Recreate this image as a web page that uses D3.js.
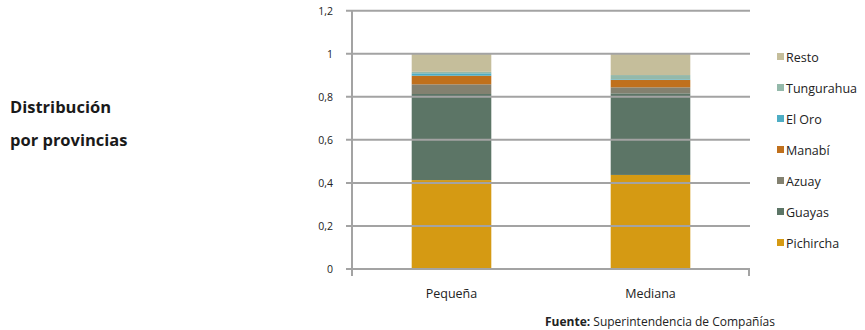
<!DOCTYPE html>
<html>
<head>
<meta charset="utf-8">
<script src="https://cdn.jsdelivr.net/npm/d3@7"></script>
<style>
  body { margin: 0; background: #fff; }
  svg { display: block; font-family: "Open Sans", sans-serif; }
</style>
</head>
<body>
<div id="grafico"></div>
<script>
var categorias = ["Pequeña", "Mediana"];
var provincias = ["Pichircha", "Guayas", "Azuay", "Manabí", "El Oro", "Tungurahua", "Resto"];
var colores = ["#D59A13", "#5C7566", "#838170", "#C0701C", "#4EADC4", "#94B9AA", "#C5BE9B"];
var pequena = [0.413, 0.40, 0.045, 0.04, 0.011, 0.007, 0.084];
var mediana = [0.437, 0.379, 0.028, 0.034, 0.003, 0.02, 0.099];
var ticksY = [0, 0.2, 0.4, 0.6, 0.8, 1, 1.2];

var width = 865, height = 330;
var izq = 352, der = 750, arriba = 10.7, abajo = 269;

var svg = d3.select("#grafico").append("svg")
    .attr("width", width)
    .attr("height", height);

// titulo
svg.append("text").attr("x", 10).attr("y", 113)
    .style("font-weight", "bold").style("font-size", "16.5px").style("fill", "#1a1a1a")
    .text("Distribución");
svg.append("text").attr("x", 10).attr("y", 146)
    .style("font-weight", "bold").style("font-size", "16.5px").style("fill", "#1a1a1a")
    .text("por provincias");

var x = d3.scaleBand().domain(categorias).range([izq, der])
    .paddingInner(0.6).paddingOuter(0.3);
var y = d3.scaleLinear().domain([0, 1.2]).range([abajo, arriba]);

// pilas
var filas = categorias.map(function (c, i) {
    var f = { cat: c };
    var vals = i === 0 ? pequena : mediana;
    provincias.forEach(function (p, j) { f[p] = vals[j]; });
    return f;
});
var series = d3.stack().keys(provincias)(filas);

svg.append("g").selectAll("g")
    .data(series).enter()
    .append("g")
    .style("fill", function (d, i) { return colores[i]; })
    .selectAll("rect")
    .data(function (d) { return d; }).enter()
    .append("rect")
        .attr("x", function (d) { return x(d.data.cat); })
        .attr("width", x.bandwidth())
        .attr("y", function (d) { return y(d[1]); })
        .attr("height", function (d) { return y(d[0]) - y(d[1]); });

// lineas de division encima de las barras
svg.append("g").selectAll("line")
    .data(ticksY).enter()
    .append("line")
        .attr("x1", izq - 6).attr("x2", der)
        .attr("y1", function (d) { return y(d); })
        .attr("y2", function (d) { return y(d); })
        .style("stroke", "#a3a3a3").style("stroke-width", 2);

// eje y
svg.append("line")
    .attr("x1", izq).attr("x2", izq)
    .attr("y1", arriba).attr("y2", abajo + 7)
    .style("stroke", "#a3a3a3").style("stroke-width", 2);
svg.append("line")
    .attr("x1", der - 1).attr("x2", der - 1)
    .attr("y1", abajo).attr("y2", abajo + 7)
    .style("stroke", "#a3a3a3").style("stroke-width", 2);

var formato = function (d) { return String(d).replace(".", ","); };
svg.append("g").selectAll("text")
    .data(ticksY).enter()
    .append("text")
        .attr("x", 333)
        .attr("y", function (d) { return y(d) + 4; })
        .attr("text-anchor", "end")
        .style("font-size", "10.5px").style("fill", "#222")
        .text(formato);

// categorias
svg.append("g").selectAll("text")
    .data(categorias).enter()
    .append("text")
        .attr("x", function (d) { return x(d) + x.bandwidth() / 2; })
        .attr("y", 298)
        .attr("text-anchor", "middle")
        .style("font-size", "12.5px").style("fill", "#222")
        .text(function (d) { return d; });

// leyenda
var leyenda = svg.append("g").selectAll("g")
    .data(provincias.slice().reverse()).enter()
    .append("g")
    .attr("transform", function (d, i) { return "translate(777," + (57 + i * 31) + ")"; });
leyenda.append("rect")
    .attr("x", 0).attr("y", -4).attr("width", 7).attr("height", 7)
    .style("fill", function (d) { return colores[provincias.indexOf(d)]; });
leyenda.append("text")
    .attr("x", 9).attr("y", 4.5)
    .style("font-size", "12.5px").style("fill", "#222")
    .text(function (d) { return d; });

// fuente
var fuente = svg.append("text").attr("x", 545).attr("y", 326)
    .style("font-size", "12px").style("fill", "#222");
fuente.append("tspan").style("font-weight", "bold").text("Fuente: ");
fuente.append("tspan").text("Superintendencia de Compañías");
</script>
</body>
</html>
